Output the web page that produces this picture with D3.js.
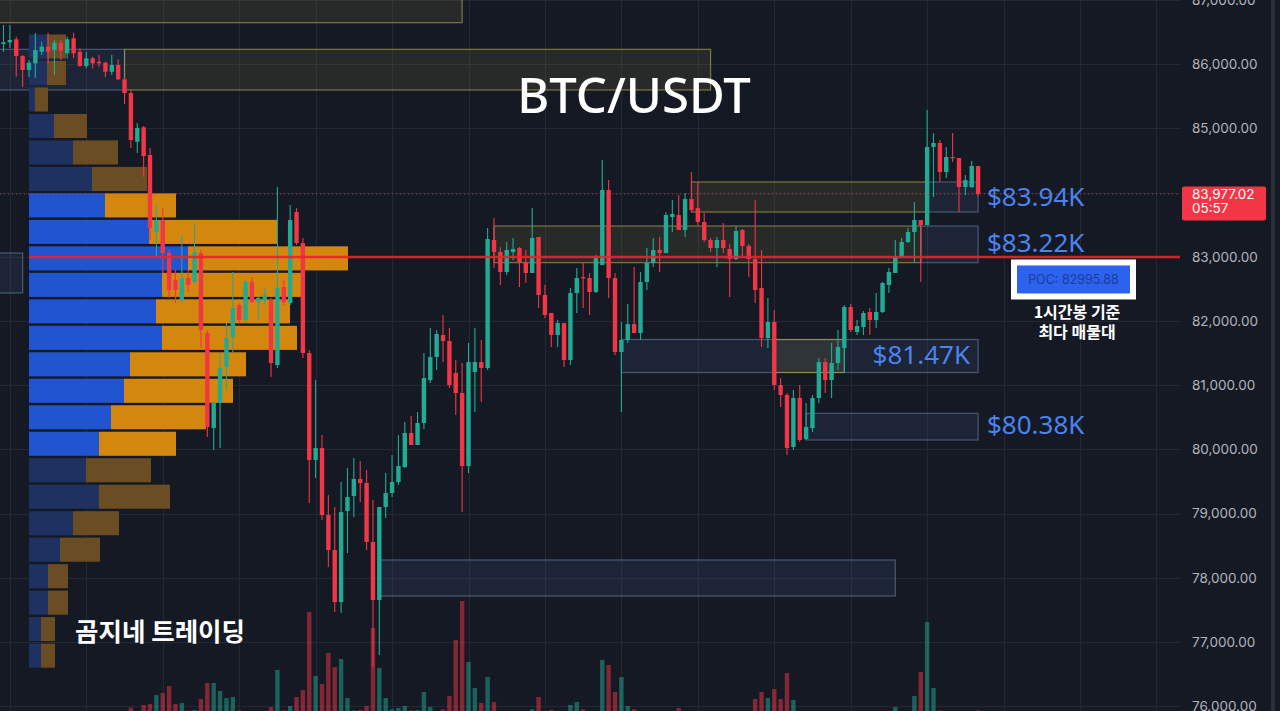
<!DOCTYPE html>
<html><head><meta charset="utf-8">
<script src="https://cdn.jsdelivr.net/npm/d3@7"></script>
<style>
html,body{margin:0;padding:0;background:#151924;overflow:hidden}
svg{display:block}
</style></head>
<body><svg id="c" width="1280" height="711"></svg>
<script>
// ---------------- DATA ----------------
const title = "BTC/USDT";
const watermark = "곰지네 트레이딩";
const priceTicks = [76000,77000,78000,79000,80000,81000,82000,83000,84000,85000,86000,87000];
const lastPrice = 83977.02;
const countdown = "05:57";
const pocPrice = 82995.88;
const pocNote = ["1시간봉 기준", "최다 매물대"];

const openP = [86313,86339,86386,86126,85908,86012,86193,86271,86219,86333,
86168,86402,86193,85970,86090,86037,86021,85881,85986,85763,
85549,84791,85015,84584,83384,83571,83057,82637,82325,82668,
82606,83057,81811,80331,80721,81282,81749,82247,82014,82606,
82294,82325,82325,81313,82528,82278,83696,83213,81500,79833,
80020,78976,78431,77621,79039,79272,79537,79475,78556,77652,
79101,79319,79490,79724,80254,80067,80409,81079,81437,81780,
81687,81188,80877,79740,81204,81359,81266,83260,83073,82761,
83073,83135,82917,82746,83306,82403,82123,81780,81967,81391,
82434,82683,82668,82450,82870,84039,82668,81515,81702,81951,
81811,82606,82902,83104,83057,83618,83649,83416,83898,83758,
83540,83260,83135,83260,83120,82964,83416,83166,82964,82512,
81733,81983,81001,80845,80036,80799,80160,80331,80799,81359,
81079,81344,81578,82216,81827,81905,82138,82014,82138,82559,
82746,82995,83229,83384,83571,83493,84708,84771,84319,84553,
84537,84085,84085,84412];
const highP = [86609,86609,86426,86141,86063,86485,86348,86489,86375,86375,
86426,86489,86246,86193,86115,86141,86037,86141,86074,85783,
85596,85082,85035,84693,83805,83758,83104,82792,83338,82792,
83525,83104,81858,80736,81500,81967,82761,82278,82637,82683,
82372,82512,82356,84085,82637,83805,83758,83291,81546,81079,
80222,79288,79101,79490,79708,79864,79817,79677,79210,79101,
79631,79911,80222,80425,80518,80581,81500,81889,81858,82092,
81889,81391,81344,81655,81889,81702,83447,83602,83151,83229,
83291,83151,83104,83758,83306,82559,82123,82014,81967,82512,
82824,82902,82746,83026,84506,84194,82746,81983,82263,82839,
82761,83135,83291,83306,83696,83883,83961,83992,84319,84163,
83680,83291,83306,83525,83197,83478,83431,83197,83883,83104,
82356,82169,81110,80877,80923,81001,80721,80845,81422,81422,
81655,81858,82247,82263,82014,82154,82201,82434,82606,82824,
83260,83291,83447,83852,83571,85285,84926,84817,84708,84926,
84537,84272,84490,84412];
const lowP = [86188,86250,85803,85643,85799,85783,86141,86012,85830,86063,
86090,86090,85959,85934,85934,85959,85794,85830,85752,85378,
84693,84615,84246,83260,82995,82746,82356,82278,82294,82450,
82590,81578,80191,79989,80020,80923,81500,81967,81983,82278,
82014,82247,81126,81266,82247,82247,83182,81422,79163,79553,
78898,78166,77465,77450,78384,78945,79179,78431,76609,76796,
78930,79257,79444,79708,80067,80067,80316,81032,81235,81359,
80954,80534,79023,79631,80581,80736,81235,82824,82559,82715,
82948,82528,82590,82746,82201,82045,81593,81593,81282,81313,
82123,82201,82092,82434,82870,82356,81469,80581,81655,81811,
81702,82481,82839,82761,83057,83384,83416,83306,83696,83493,
83229,83073,82839,83057,82372,82948,82995,82683,82278,81593,
81578,80923,80659,79911,79989,80113,80145,80269,80721,80877,
80799,81235,81188,81827,81780,81780,81780,81889,82123,82434,
82746,82979,83213,82917,82606,83493,83930,84163,84225,84475,
83696,83961,84070,83945];
const closeP = [86340,86375,86126,85908,86021,86219,86271,86193,86333,86208,
86386,86168,85970,86090,86012,86012,85881,85986,85763,85549,
84817,85004,84568,83447,83571,83057,82481,82481,82668,82559,
83073,81858,80347,80721,81266,81733,82201,82014,82606,82294,
82356,82403,81344,82512,82294,83571,83213,81500,79833,80020,
78976,78431,77621,79023,79257,79537,79475,78556,77652,79101,
79319,79490,79740,80254,80067,80409,81110,81437,81796,81687,
81001,80877,79740,81359,81359,81266,83275,83073,82761,83104,
83120,82917,82746,83291,82403,82092,81780,81967,81391,82434,
82668,82668,82450,82979,84039,82668,81515,81702,81951,81811,
82606,82902,83104,83057,83649,83665,83416,83898,83727,83540,
83260,83135,83260,83135,82964,83400,83166,82964,82481,81733,
81983,81001,80845,80020,80799,80145,80347,80799,81359,81079,
81344,81593,82216,81858,81920,82123,82014,82138,82590,82761,
82995,83229,83384,83571,83493,84708,84771,84319,84553,84537,
84085,84194,84412,83977.02];
const volume = [20,25,20,30,25,20,25,20,30,25,20,25,30,20,25,20,30,25,30,35,
64,30,88,96,175,193,254,96,105,40,
45,140,281,281,211,149,158,40,35,30,
25,30,70,395,40,79,158,219,904,342,
272,544,421,491,149,40,45,79,763,412,
149,50,61,79,40,45,202,70,30,50,
167,658,1000,465,237,105,333,114,30,25,
20,30,35,50,158,30,45,25,30,88,
114,50,30,35,482,439,202,333,79,50,
30,25,20,30,25,30,61,30,30,25,
20,25,20,30,25,30,25,35,140,202,
149,228,140,368,132,30,25,20,25,30,
25,30,20,25,20,25,30,25,30,35,
70,30,35,167,377,816,237,40,35,30,
35,25,30,40];

// volume profile: 24 price rows from top
const profileTop = 86480, profileRow = 412.5;
const profileBuy  = [180,180,60,250,440,630,760,1200,1590,1330,1270,1330,1010,950,820,700,570,700,440,310,190,190,120,120];
const profileSell = [190,190,130,330,450,550,710,1280,1600,1400,1340,1350,1160,1090,950,770,650,710,460,400,200,200,140,140];

// zones: candle index span and price span
const zoneStart = [-1,-1,19,108,145,77,144,97,121,126,59,-1];
const zoneEnd   = [72,19,111,145,153,144,153,153,132,153,140,3];
const zoneTopP  = [87400,86230,86230,84164,84164,83478,83478,81710,81710,80560,78276,83058];
const zoneBotP  = [86645,85597,85597,83696,83696,82907,82907,81196,81196,80145,77715,82435];
const zoneKind  = ["s","d","s","s","d","s","d","d","s","d","d","d"];

const levelLabels = ["$83.94K","$83.22K","$81.47K","$80.38K"];
const levelPrices = [83940,83220,81470,80380];

// ---------------- CHART ----------------
const svg = d3.select("#c");
const W = 1280, H = 711, plotRight = 1180;
const n = closeP.length;
const x = d3.scaleLinear().domain([0, n-1]).range([3.5, 978.1]);
const y = d3.scaleLinear().domain([76000, 87000]).range([706.1, -0.1]);
const yVol = d3.scaleLinear().domain([0, 1000]).range([715, 601]);
const xProf = d3.scaleLinear().domain([0, 1600]).range([0, 160]);

svg.append("rect").attr("width", W).attr("height", H).attr("fill", "#151924");

// grid
const g = svg.append("g");
g.selectAll(".hg").data(priceTicks).join("line")
  .attr("x1", 0).attr("x2", plotRight)
  .attr("y1", d => Math.round(y(d)) + 0.5).attr("y2", d => Math.round(y(d)) + 0.5)
  .attr("stroke", "#242833").attr("stroke-width", 1);
const timeGrid = d3.range(1, 190, 12).filter(i => x(i) < plotRight);
g.selectAll(".vg").data(timeGrid).join("line")
  .attr("x1", d => Math.round(x(d)) + 0.5).attr("x2", d => Math.round(x(d)) + 0.5)
  .attr("y1", 0).attr("y2", H)
  .attr("stroke", "#242833").attr("stroke-width", 1);

// zones
const zones = zoneStart.map((s, i) => ({s, e: zoneEnd[i], t: zoneTopP[i], b: zoneBotP[i], k: zoneKind[i]}));
svg.append("g").selectAll("rect").data(zones).join("rect")
  .attr("x", d => x(d.s)).attr("width", d => x(d.e) - x(d.s))
  .attr("y", d => y(d.t)).attr("height", d => y(d.b) - y(d.t))
  .attr("fill", d => d.k === "s" ? "rgba(140,135,70,0.16)" : "rgba(70,100,150,0.16)")
  .attr("stroke", d => d.k === "s" ? "rgba(190,175,80,0.6)" : "rgba(130,160,200,0.45)")
  .attr("stroke-width", 1.2);

// volume profile with value area
const tot = profileBuy.map((b, i) => b + profileSell[i]);
const total = d3.sum(tot);
const poc = d3.maxIndex(tot);
let lo = poc, hi = poc, acc = tot[poc];
while (acc < total * 0.7 && (lo > 0 || hi < tot.length - 1)) {
  const up = lo > 0 ? tot[lo-1] : -1, dn = hi < tot.length-1 ? tot[hi+1] : -1;
  if (dn > up) { hi++; acc += tot[hi]; } else { lo--; acc += tot[lo]; }
}
const prof = profileBuy.map((b, i) => ({i, b, s: profileSell[i], va: i >= lo && i <= hi}));
const pg = svg.append("g");
const px0 = 29;
prof.forEach(d => {
  const yt = y(profileTop - d.i * profileRow) + 1.2;
  const yb = y(profileTop - (d.i + 1) * profileRow) - 1.2;
  pg.append("rect").attr("x", px0).attr("y", yt).attr("width", xProf(d.b)).attr("height", yb - yt)
    .attr("fill", d.va ? "#2154cf" : "#1e3161");
  pg.append("rect").attr("x", px0 + xProf(d.b)).attr("y", yt).attr("width", xProf(d.s)).attr("height", yb - yt)
    .attr("fill", d.va ? "#d4870f" : "#6a4d22");
});

// volume bars
const bw = 4.4;
svg.append("g").selectAll("rect").data(volume).join("rect")
  .attr("x", (d, i) => x(i) - bw/2).attr("width", bw)
  .attr("y", d => yVol(d)).attr("height", d => yVol(0) - yVol(d))
  .attr("fill", (d, i) => closeP[i] >= openP[i] ? "rgba(34,171,148,0.5)" : "rgba(242,54,69,0.5)");

// candles
const cd = closeP.map((c, i) => ({i, o: openP[i], h: highP[i], l: lowP[i], c}));
const cg = svg.append("g");
cg.selectAll("line").data(cd).join("line")
  .attr("x1", d => x(d.i)).attr("x2", d => x(d.i))
  .attr("y1", d => y(d.h)).attr("y2", d => y(d.l))
  .attr("stroke", d => d.c >= d.o ? "#22ab94" : "#f23645").attr("stroke-width", 1.1);
cg.selectAll("rect").data(cd).join("rect")
  .attr("x", d => x(d.i) - bw/2).attr("width", bw)
  .attr("y", d => y(Math.max(d.o, d.c)))
  .attr("height", d => Math.max(1.2, Math.abs(y(d.o) - y(d.c))))
  .attr("fill", d => d.c >= d.o ? "#22ab94" : "#f23645");

// last price dotted line
svg.append("line").attr("x1", 0).attr("x2", plotRight)
  .attr("y1", y(lastPrice)).attr("y2", y(lastPrice))
  .attr("stroke", "#f23645").attr("stroke-opacity", 0.75).attr("stroke-width", 1).attr("stroke-dasharray", "1,3");

// POC line
svg.append("line").attr("x1", px0).attr("x2", plotRight)
  .attr("y1", y(pocPrice)).attr("y2", y(pocPrice))
  .attr("stroke", "#e8232b").attr("stroke-opacity", 0.9).attr("stroke-width", 2.4);

// level labels
svg.append("g").selectAll("text").data(levelLabels).join("text")
  .attr("x", (d, i) => i === 2 ? 970 : 987)
  .attr("text-anchor", (d, i) => i === 2 ? "end" : "start")
  .attr("y", (d, i) => y(levelPrices[i]))
  .attr("dy", "0.36em")
  .attr("font-family", "'Noto Sans', sans-serif").attr("font-size", 26)
  .attr("fill", "#4b83ef").text(d => d);

// price axis (labels hidden where the last-price tag covers them)
const lp = y(lastPrice);
const visibleTicks = priceTicks.filter(t => Math.abs(y(t) - (lp + 9)) > 22);
const axis = svg.append("g").attr("transform", `translate(1185,0)`)
  .call(d3.axisRight(y).tickValues(visibleTicks).tickFormat(d3.format(",.2f")).tickSize(0).tickPadding(7));
axis.select(".domain").remove();
axis.selectAll("text").attr("fill", "#b2b5be").attr("font-size", 13.5).attr("font-family", "Inter, sans-serif");

// last price label
svg.append("rect").attr("x", 1182).attr("y", lp - 7.5).attr("width", 84).attr("height", 34).attr("rx", 2).attr("fill", "#f23645");
svg.append("text").attr("x", 1192).attr("y", lp + 5.5).attr("fill", "#fff").attr("font-size", 13.5)
  .attr("font-family", "Inter, sans-serif").text(d3.format(",.2f")(lastPrice));
svg.append("text").attr("x", 1192).attr("y", lp + 19.5).attr("fill", "#fff").attr("font-size", 13.5)
  .attr("font-family", "Inter, sans-serif").text(countdown);

// POC box
const pb = y(pocPrice) + 2.5;
svg.append("rect").attr("x", 1011).attr("y", pb).attr("width", 125).attr("height", 40).attr("fill", "#ffffff");
svg.append("rect").attr("x", 1017).attr("y", pb + 6).attr("width", 113).attr("height", 28).attr("fill", "#2c62ee");
svg.append("text").attr("x", 1073.5).attr("y", pb + 20).attr("dy", "0.36em").attr("text-anchor", "middle")
  .attr("font-family", "Inter, sans-serif").attr("font-size", 12.5).attr("fill", "#1c3d96")
  .text("POC: " + pocPrice.toFixed(2));
svg.append("g").selectAll("text").data(pocNote).join("text")
  .attr("x", 1077).attr("y", (d, i) => pb + 59 + i * 20).attr("text-anchor", "middle")
  .attr("font-family", "'Noto Sans CJK KR', sans-serif").attr("font-weight", 700).attr("font-size", 16)
  .attr("fill", "#ffffff").text(d => d);

// title & watermark
svg.append("text").attr("x", 634).attr("y", 113).attr("text-anchor", "middle")
  .attr("font-family", "'Noto Sans', sans-serif").attr("font-weight", 500).attr("font-size", 49).attr("fill", "#ffffff").text(title);
svg.append("text").attr("x", 75).attr("y", 641)
  .attr("font-family", "'Noto Sans CJK KR', sans-serif").attr("font-weight", 700).attr("font-size", 25.5)
  .attr("fill", "#ffffff").text(watermark);

// right border strip
svg.append("rect").attr("x", 1271).attr("y", 0).attr("width", 4).attr("height", H).attr("fill", "#2b2f3a");
</script>
</body></html>
